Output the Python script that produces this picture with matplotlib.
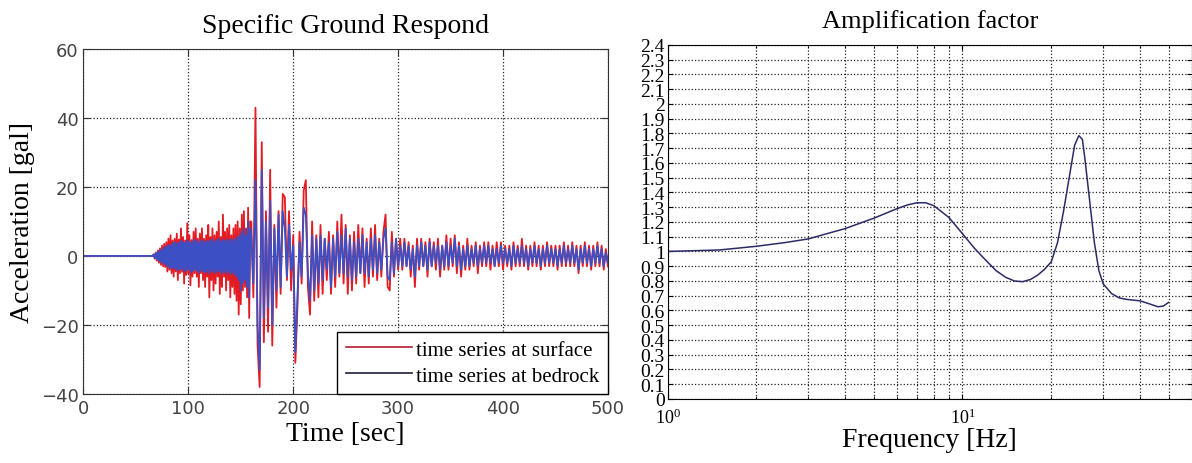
import numpy as np
from matplotlib import pyplot as plt
from matplotlib.lines import Line2D
from matplotlib.ticker import LogLocator, LogFormatterMathtext, NullFormatter, MultipleLocator

plt.rcParams['mathtext.fontset'] = 'stix'

# time axis: flat until 66 s, then 1 s samples up to 159 s, 2 s samples after that
time_start = [0]
time_sampled = np.concatenate([np.arange(66, 160, 1), np.arange(160, 501, 2)])

surface = [
    # 66-159 s, every second
    0, 0.5, -0.8, 1, -1.4, 1.6, -2, 2.2, -2.6, 3,
    -3, 3.5, -3.2, 4, -4.5, 5, -4, 6, -5, 4.5,
    -6, 5, -4.5, 6.5, -7, 4.8, -5, 8, -4.6, 5.5,
    -8, 4.5, -5.5, 9.5, -5, 6, -8.5, 4.6, -6, 7,
    -5, 8, -6, 5, -9, 6.5, -5, 8, -7, 5,
    -9, 6, -6, 9, -12, 5.5, -7, 8, -10, 6,
    -8, 7, -6, 10, -11, 5.5, -9, 12, -6, 7,
    -10, 8, -7, 9, -12, 6, -9, 8, -11, 9,
    -13, 10, -17, 8, -14, 12, -10, 13, -9, 8,
    -12, 14, -18, 10,
    # 160-500 s, every 2 seconds
    10, -12, 43,
    -26, -38, 33, -25, 13, -22, 25, -26, 9, -15,
    13, -11, 18, 17, -7, 13, -10, 6, -31, -15,
    7, -8, 19, 22, -9, -17, 10, -13, 6, -12,
    9, -11, 5, -7, 7, -11, 6, -9, 10, -6,
    12, -8, 9, -11, 6, -10, 7, -8, 9, -5,
    8, -9, 5, -8, 8, -6, 9, -7, 5, -6,
    7, 12, -9, -10, 7, -6, 5, -4, 5, -4,
    5, -3, 4, -6, 3, -9, 5, -4, 5, -3,
    4, -6, 5, -3, 4, -4, 5, -6, 3, -4,
    6, -4, 5, -3, 6, -5, 4, -6, 3, -4,
    5, -4, 3, -3, 4, -5, 3, -3, 4, -3,
    4, -4, 3, -3, 4, -3, 4, -4, 3, -3,
    3, -4, 4, -3, 3, -3, 5, -3, 3, -4,
    3, -3, 4, -3, 3, -4, 3, -3, 4, -3,
    3, -3, 3, -4, 3, -3, 4, -3, 3, -3,
    4, -3, 3, -5, 3, -3, 4, -3, 3, -4,
    3, -3, 4, -3, 3, -4, 2, -3,
]

bedrock = [
    # 66-159 s, every second
    0, 0.4, -0.6, 0.8, -1, 1.2, -1.4, 1.5, -1.8, 2,
    -2.2, 2.5, -2.4, 2.8, -3, 3.2, -3.4, 3, -3.6, 3.8,
    -3.5, 4, -3.8, 3.6, -4.2, 3.9, -4, 4.4, -3.7, 4.1,
    -4.5, 3.8, -4.2, 4.6, -4, 4.2, -4.8, 3.9, -4.3, 4.5,
    -4.1, 4.7, -4.4, 4, -4.9, 4.3, -4.2, 4.6, -4.5, 4.1,
    -4.8, 4.4, -4.6, 4.2, -5, 4.5, -4.3, 4.8, -4.7, 4.2,
    -4.9, 4.6, -4.4, 5, -4.6, 4.3, -5.2, 4.7, -4.5, 4.4,
    -5.1, 4.8, -4.6, 4.5, -5.3, 4.9, -4.8, 4.6, -5.5, 5,
    -6, 5.5, -7, 6, -10, 7, -8, 8, -7, 6,
    -9, 10, -12, 8,
    # 160-500 s, every 2 seconds
    6, -8, 22,
    -20, -33, 25, -18, 10, -15, 16, -20, 8, -10,
    12, -9, 13, 8, -6, 9, -4, 3, -28, -12,
    4, -6, 14, 12, -5, -13, 6, -10, 5, -8,
    6, -7, 5, -4, 4, -9, 5, -6, 7, -5,
    6, -5, 8, -6, 5, -7, 4, -6, 5, -5,
    6, -5, 4, -6, 5, -4, 6, -5, 4, -4,
    5, 8, -6, -7, 4, -5, 5, -3, 3, -3,
    4, -3, 3, -4, 2, -6, 3, -3, 4, -3,
    3, -4, 4, -3, 3, -2, 3, -4, 3, -3,
    4, -3, 3, -2, 5, -3, 3, -4, 2, -3,
    3, -3, 2, -2, 3, -3, 2, -2, 3, -2,
    3, -2, 2, -3, 2, -2, 3, -2, 2, -2,
    2, -3, 3, -2, 2, -2, 3, -2, 2, -3,
    2, -2, 3, -2, 2, -3, 2, -2, 3, -2,
    2, -2, 2, -3, 2, -2, 3, -2, 2, -2,
    3, -2, 2, -4, 2, -2, 3, -2, 2, -3,
    2, -2, 3, -2, 2, -3, 1, -2,
]

# amplification factor vs frequency
freq = [1.0, 1.5, 2, 2.5, 3, 4, 5, 6, 6.5, 7, 7.5, 8, 9, 10, 11, 12, 13, 14, 15, 16,
        17, 18, 19, 20, 21, 22, 23, 24, 24.8, 25.5, 26, 27, 28, 29, 30, 32, 34, 36,
        38, 40, 43, 46, 48, 50]
amp = [1.0, 1.01, 1.035, 1.06, 1.085, 1.155, 1.225, 1.29, 1.315, 1.33, 1.33, 1.31, 1.23,
       1.12, 1.02, 0.94, 0.87, 0.825, 0.80, 0.795, 0.81, 0.84, 0.88, 0.93, 1.06, 1.27,
       1.50, 1.72, 1.785, 1.76, 1.63, 1.34, 1.06, 0.87, 0.78, 0.715, 0.685, 0.675, 0.67,
       0.665, 0.645, 0.625, 0.63, 0.655]

SERIF = 'Liberation Serif'
RED = '#e31b23'
BLUE = '#3d4fc4'

t = np.concatenate([time_start, time_sampled])
red_y = np.concatenate([[0], surface])
blue_y = np.concatenate([[0], bedrock])

fig = plt.figure(figsize=(11.92, 4.64), dpi=100)

# left panel: time series
ax1 = fig.add_axes([0.070, 0.149, 0.440, 0.743])
ax1.plot(t, red_y, color=RED, lw=1.3)
ax1.plot(t, blue_y, color=BLUE, lw=1.3)
ax1.set_xlim(0, 500)
ax1.set_ylim(-40, 60)
ax1.set_xticks(range(0, 501, 100))
ax1.set_yticks(range(-40, 61, 20))
ax1.grid(True, linestyle=':', color='#222222', lw=0.9)
ax1.tick_params(direction='in', top=True, right=True, labelsize=13, colors='#333333',
                labelcolor='#444444', length=5)
for lbl in ax1.get_xticklabels() + ax1.get_yticklabels():
    lbl.set_family('DejaVu Sans')
for s in ax1.spines.values():
    s.set_color('#333333')
ax1.set_title('Specific Ground Respond', family=SERIF, fontsize=20, pad=12)
ax1.set_xlabel('Time [sec]', family=SERIF, fontsize=20, labelpad=3)
ax1.set_ylabel('Acceleration [gal]', family=SERIF, fontsize=20, labelpad=4)
handles = [Line2D([], [], color='#b02030', lw=1.2), Line2D([], [], color='#1c1c40', lw=1.2)]
ax1.legend(handles, ['time series at surface', 'time series at bedrock'], loc='lower right',
           borderaxespad=0, fancybox=False, framealpha=1, edgecolor='black',
           prop={'family': SERIF, 'size': 15}, handlelength=3.2, handletextpad=0.2,
           labelspacing=0.3, borderpad=0.4)

# right panel: amplification factor
ax2 = fig.add_axes([0.560, 0.138, 0.440, 0.763])
ax2.plot(freq, amp, color='#2b2b66', lw=1.1)
ax2.set_xscale('log')
ax2.set_xlim(1, 60)
ax2.set_ylim(0, 2.4)
ax2.yaxis.set_major_locator(MultipleLocator(0.1))
ax2.yaxis.set_major_formatter(plt.FuncFormatter(lambda v, p: ('%.1f' % v).rstrip('0').rstrip('.') if v else '0'))
ax2.xaxis.set_major_locator(LogLocator(base=10))
ax2.xaxis.set_major_formatter(LogFormatterMathtext())
ax2.xaxis.set_minor_locator(LogLocator(base=10, subs=np.arange(2, 10)))
ax2.xaxis.set_minor_formatter(NullFormatter())
ax2.grid(True, which='both', linestyle=':', color='#222222', lw=0.9)
ax2.tick_params(which='both', direction='in', top=True, right=True, labelsize=13)
ax2.tick_params(axis='x', pad=6)
ax2.tick_params(axis='y', pad=2)
for lbl in ax2.get_yticklabels() + ax2.get_xticklabels():
    lbl.set_family(SERIF)
for lbl in ax2.get_yticklabels():
    lbl.set_fontsize(14)
ax2.set_title('Amplification factor', family=SERIF, fontsize=19, pad=13)
ax2.set_xlabel('Frequency [Hz]', family=SERIF, fontsize=20, labelpad=0)

fig.savefig('out.png', dpi=100)
